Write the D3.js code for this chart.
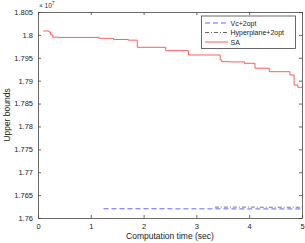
<!DOCTYPE html>
<html>
<head>
<meta charset="utf-8">
<script src="https://cdn.jsdelivr.net/npm/d3@7"></script>
<style>
  body { margin: 0; background: #fff; }
  svg { display: block; font-family: "Liberation Sans", Arial, sans-serif; }
  .tick text { fill: #222; }
</style>
</head>
<body>
<svg width="305" height="243"></svg>
<script>
// tick labels
const xTicks = [0, 1, 2, 3, 4, 5];
const yTicks = [1.76, 1.765, 1.77, 1.775, 1.78, 1.785, 1.79, 1.795, 1.8, 1.805];

// series (x1e7), step shaped
const saTime = [0.1, 0.21, 0.24, 0.28, 0.38, 1.155, 1.43, 1.71, 1.88, 2.42, 2.85, 3.45, 3.48, 3.64, 3.91, 4.11, 4.38, 4.77, 4.85, 4.92, 5];
const saVal  = [1.80085, 1.8006, 1.8, 1.7995, 1.79945, 1.79925, 1.799, 1.79885, 1.79729, 1.79655, 1.79561, 1.79452, 1.79415, 1.7941, 1.7938, 1.79271, 1.79196, 1.79124, 1.78906, 1.78856, 1.78856];

const vcTime = [1.24, 2.5, 3.7, 5];
const vcVal  = [1.76202, 1.76200, 1.76198, 1.76195];

const hpTime = [3.35, 4.2, 5];
const hpVal  = [1.76238, 1.76235, 1.76232];

const svg = d3.select('svg');
const m = { left: 38, right: 302, top: 12, bottom: 218 };

const x = d3.scaleLinear().domain([0, 5]).range([m.left, m.right]);
const y = d3.scaleLinear().domain([1.76, 1.805]).range([m.bottom, m.top]);

const axisColor = '#444';

function styleAxis(g) {
  g.select('.domain').attr('stroke', axisColor).attr('stroke-width', 0.8);
  g.selectAll('.tick line').attr('stroke', axisColor).attr('stroke-width', 0.8);
}

svg.append('g')
  .attr('transform', `translate(0,${m.bottom})`)
  .call(d3.axisBottom(x).tickValues(xTicks).tickSizeInner(-3).tickSizeOuter(0).tickPadding(6).tickFormat(d3.format('d')))
  .call(styleAxis)
  .call(g => g.selectAll('text').attr('font-size', 7.5));

svg.append('g')
  .attr('transform', `translate(0,${m.top})`)
  .call(d3.axisTop(x).tickValues(xTicks).tickSizeInner(-3).tickSizeOuter(0).tickFormat(''))
  .call(styleAxis);

svg.append('g')
  .attr('transform', `translate(${m.left},0)`)
  .call(d3.axisLeft(y).tickValues(yTicks).tickSizeInner(-3).tickSizeOuter(0).tickPadding(5).tickFormat(d => String(+d.toFixed(3))))
  .call(styleAxis)
  .call(g => g.selectAll('text').attr('font-size', 7.5));

svg.append('g')
  .attr('transform', `translate(${m.right},0)`)
  .call(d3.axisRight(y).tickValues(yTicks).tickSizeInner(-3).tickSizeOuter(0).tickFormat(''))
  .call(styleAxis);

// exponent
const ex = svg.append('text')
  .attr('x', m.left + 1)
  .attr('y', 8)
  .attr('font-size', 6.5)
  .attr('fill', '#333');
ex.append('tspan').text('\u00d7 10');
ex.append('tspan').attr('dy', -3).attr('font-size', 5).text('7');

const stepLine = d3.line()
  .x(d => x(d[0]))
  .y(d => y(d[1]))
  .curve(d3.curveStepAfter);

svg.append('path')
  .datum(vcTime.map((t, i) => [t, vcVal[i]]))
  .attr('d', stepLine)
  .attr('fill', 'none')
  .attr('stroke', '#5555ff')
  .attr('stroke-width', 0.9)
  .attr('stroke-dasharray', '5,3');

svg.append('path')
  .datum(hpTime.map((t, i) => [t, hpVal[i]]))
  .attr('d', stepLine)
  .attr('fill', 'none')
  .attr('stroke', '#555')
  .attr('stroke-width', 0.8)
  .attr('stroke-dasharray', '4,2,1,2');

svg.append('path')
  .datum(saTime.map((t, i) => [t, saVal[i]]))
  .attr('d', stepLine)
  .attr('fill', 'none')
  .attr('stroke', '#ff4a4a')
  .attr('stroke-width', 0.9);

// legend
const legend = svg.append('g');
legend.append('rect')
  .attr('x', 201.5).attr('y', 16)
  .attr('width', 94).attr('height', 32.5)
  .attr('fill', '#fff')
  .attr('stroke', axisColor)
  .attr('stroke-width', 0.8);

const legendItems = [
  { name: 'Vc+2opt', color: '#5555ff', dash: '5,3' },
  { name: 'Hyperplane+2opt', color: '#555', dash: '4,2,1,2' },
  { name: 'SA', color: '#ff4a4a', dash: null }
];

legendItems.forEach((d, i) => {
  const ly = 23 + i * 9.5;
  legend.append('line')
    .attr('x1', 205).attr('x2', 228)
    .attr('y1', ly).attr('y2', ly)
    .attr('stroke', d.color)
    .attr('stroke-width', 0.9)
    .attr('stroke-dasharray', d.dash);
  legend.append('text')
    .attr('x', 230.5).attr('y', ly + 2.5)
    .attr('font-size', 7)
    .attr('fill', '#222')
    .text(d.name);
});

svg.append('text')
  .attr('x', (m.left + m.right) / 2)
  .attr('y', 239)
  .attr('text-anchor', 'middle')
  .attr('font-size', 8.5)
  .attr('fill', '#222')
  .text('Computation time (sec)');

svg.append('text')
  .attr('transform', `translate(10,${(m.top + m.bottom) / 2}) rotate(-90)`)
  .attr('text-anchor', 'middle')
  .attr('font-size', 8.5)
  .attr('fill', '#222')
  .text('Upper bounds');
</script>
</body>
</html>
